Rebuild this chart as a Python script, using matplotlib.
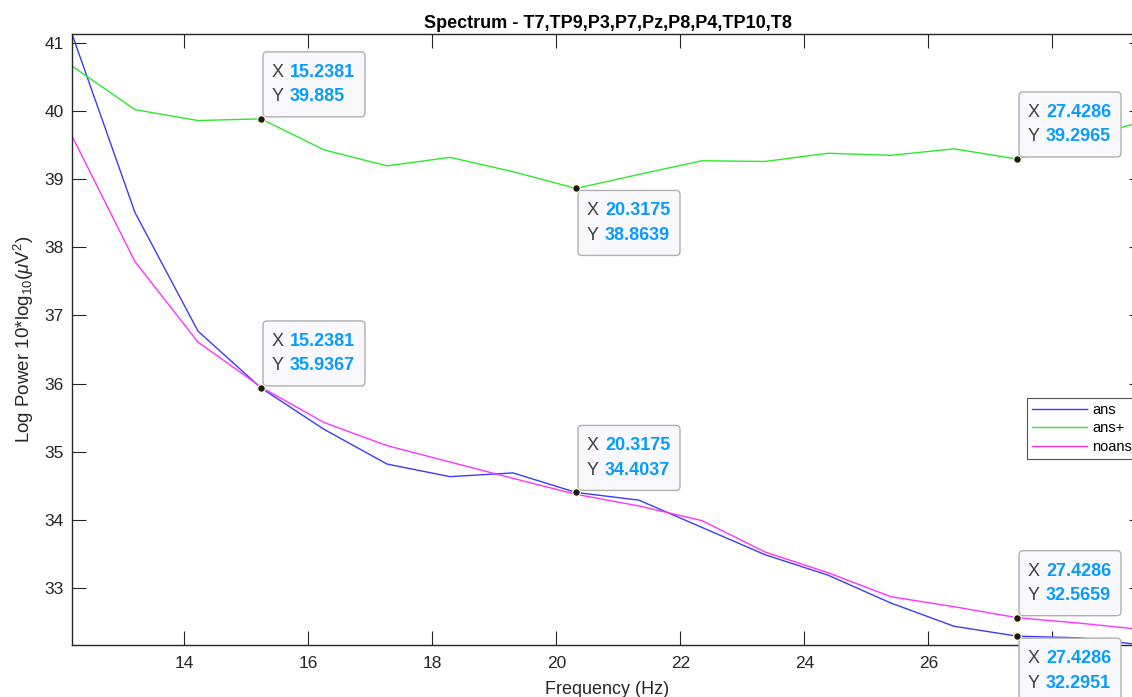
import numpy as np
import matplotlib
matplotlib.use("Agg")
import matplotlib.pyplot as plt
import matplotlib.transforms as mtransforms
from matplotlib.patches import FancyBboxPatch

plt.rcParams["font.family"] = ["Liberation Sans", "DejaVu Sans"]
plt.rcParams["mathtext.fontset"] = "custom"
plt.rcParams["mathtext.rm"] = "Liberation Sans"
plt.rcParams["mathtext.it"] = "Liberation Sans:italic"
plt.rcParams["mathtext.bf"] = "Liberation Sans:bold"

# frequency bins (Hz)
freq = [12.1905, 13.2063, 14.2222, 15.2381, 16.2540, 17.2698, 18.2857, 19.3016, 20.3175,
        21.3333, 22.3492, 23.3651, 24.3810, 25.3968, 26.4127, 27.4286, 28.4444, 29.4603]

# log power per condition
ans = [41.13, 38.51, 36.77, 35.9367, 35.33, 34.82, 34.635, 34.69, 34.4037,
       34.29, 33.89, 33.49, 33.19, 32.78, 32.44, 32.2951, 32.27, 32.165]
ans_plus = [40.66, 40.02, 39.86, 39.885, 39.43, 39.195, 39.32, 39.11, 38.8639,
            39.07, 39.27, 39.26, 39.38, 39.35, 39.445, 39.2965, 39.58, 39.85]
noans = [39.635, 37.79, 36.61, 35.95, 35.43, 35.09, 34.85, 34.61, 34.376,
         34.205, 33.99, 33.53, 33.226, 32.873, 32.727, 32.5659, 32.485, 32.39]

series_names = ["ans", "ans+", "noans"]

x_ticks = [14, 16, 18, 20, 22, 24, 26, 28]
# the "28" label sits under a data tip in the reference
x_tick_labels = ["14", "16", "18", "20", "22", "24", "26", ""]
y_ticks = [33, 34, 35, 36, 37, 38, 39, 40, 41]

# data tips: (x, y, placed below the point?)
tip_x = [15.2381, 20.3175, 27.4286, 15.2381, 20.3175, 27.4286, 27.4286]
tip_y = [39.885, 38.8639, 39.2965, 35.9367, 34.4037, 32.5659, 32.2951]
tip_below = [False, True, False, False, False, False, True]

title = "Spectrum - T7,TP9,P3,P7,Pz,P8,P4,TP10,T8"

W, H = 1132, 697
AX_COLOR = "#262626"

fig = plt.figure(figsize=(W / 100, H / 100), dpi=100)
# axes runs past the right edge of the picture, as in the reference crop
ax = fig.add_axes([72 / W, (H - 645) / H, (1143 - 72) / W, (645 - 34) / H])

l1, = ax.plot(freq, ans, color="#3b3bff", lw=1.0, label=series_names[0])
l2, = ax.plot(freq, ans_plus, color="#2ee82e", lw=1.0, label=series_names[1])
l3, = ax.plot(freq, noans, color="#ff33ff", lw=1.0, label=series_names[2])

ax.set_xlim(freq[0], freq[-1])
ax.set_ylim(min(ans), max(ans))
ax.set_xticks(x_ticks)
ax.set_xticklabels(x_tick_labels)
ax.set_yticks(y_ticks)

for s in ax.spines.values():
    s.set_color(AX_COLOR)
    s.set_linewidth(1.0)
ax.tick_params(direction="in", length=10, width=0.8, color=AX_COLOR, labelcolor=AX_COLOR,
               labelsize=12.5, top=True, right=True)
ax.tick_params(axis="y", pad=6)
ax.tick_params(axis="x", pad=8)

ax.set_title(title, fontsize=13, fontweight="bold", color="#000000", pad=4)
ax.set_xlabel("Frequency (Hz)", fontsize=13, color=AX_COLOR, labelpad=7)
ax.set_ylabel(r"Log Power 10*log$_{10}$($\mu$V$^2$)", fontsize=13.5, color=AX_COLOR, labelpad=6)

leg = ax.legend(handles=[l1, l2, l3], loc="upper left",
                bbox_to_anchor=(1027 / W, 1 - 398 / H), bbox_transform=fig.transFigure,
                fontsize=10.5, frameon=True, fancybox=False, handlelength=3.75,
                handletextpad=0.35, labelspacing=0.3, borderpad=0.35, borderaxespad=0)
leg.get_frame().set_edgecolor(AX_COLOR)
leg.get_frame().set_linewidth(0.8)


def datatip(ax, x, y, below):
    # pixel offsets relative to the data point
    trans = mtransforms.ScaledTranslation(x, y, ax.transData)
    w, h = 102, 65
    x0 = 2
    y0 = -2 - h if below else 2
    box = FancyBboxPatch((x0, y0), w, h, boxstyle="round,pad=0,rounding_size=4",
                         fc="#f8f8fd", ec="#b0b0b0", lw=1.0, transform=trans,
                         zorder=5, clip_on=False)
    ax.add_patch(box)
    top = y0 + h
    for label, val, dy in (("X", x, 20.5), ("Y", y, 45)):
        ax.text(x0 + 9, top - dy, label, transform=trans, fontsize=13, color="#404040",
                va="center", ha="left", zorder=6, clip_on=False)
        ax.text(x0 + 27, top - dy, f"{val:g}", transform=trans, fontsize=13,
                fontweight="bold", color="#0a9bff", va="center", ha="left",
                zorder=6, clip_on=False)
    ax.plot([x], [y], "o", ms=5.5, mfc="#1a1a1a", mec="#fffbd0", mew=0.9,
            zorder=7, clip_on=False)


for tx, ty, tb in zip(tip_x, tip_y, tip_below):
    datatip(ax, tx, ty, tb)

fig.savefig("out.png", dpi=100)
